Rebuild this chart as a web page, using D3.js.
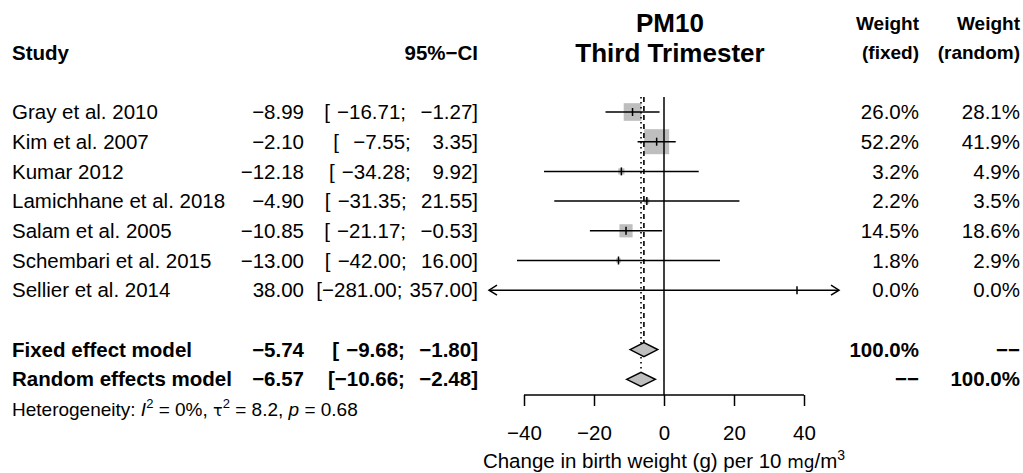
<!DOCTYPE html>
<html>
<head>
<meta charset="utf-8">
<script src="https://cdn.jsdelivr.net/npm/d3@7"></script>
<style>
    html, body { margin: 0; padding: 0; background: #fff; }
    svg text { font-family: "Liberation Sans", Arial, sans-serif; fill: #000; white-space: pre; }
    svg text.ci { word-spacing: 1.5px; }
</style>
</head>
<body>
<div class="chart"></div>
<script>
// study level data
const studies = ["Gray et al. 2010", "Kim et al. 2007", "Kumar 2012", "Lamichhane et al. 2018",
    "Salam et al. 2005", "Schembari et al. 2015", "Sellier et al. 2014"];
const estimates = [-8.99, -2.10, -12.18, -4.90, -10.85, -13.00, 38.00];
const lowerCI = [-16.71, -7.55, -34.28, -31.35, -21.17, -42.00, -281.00];
const upperCI = [-1.27, 3.35, 9.92, 21.55, -0.53, 16.00, 357.00];
const weightFixed = [26.0, 52.2, 3.2, 2.2, 14.5, 1.8, 0.0];
const weightRandom = [28.1, 41.9, 4.9, 3.5, 18.6, 2.9, 0.0];

// pooled models
const modelNames = ["Fixed effect model", "Random effects model"];
const modelEst = [-5.74, -6.57];
const modelLower = [-9.68, -10.66];
const modelUpper = [-1.80, -2.48];
const modelWFixed = ["100.0%", "--"];
const modelWRandom = ["--", "100.0%"];

const xTicks = [-40, -20, 0, 20, 40];
const xDomain = [-50, 50];

const config = {
    width: 1023,
    height: 473,
    rowTop: 112,
    rowStep: 29.7,
    fontSize: 20.5,
    colStudy: 12,
    colEst: 304,
    colCI: 478,
    colWF: 919,
    colWR: 1020,
    axisY: 395
};

const minus = s => s.replace(/-/g, "\u2212");
const fmt = v => minus(v.toFixed(2));
const pad = (s, n) => " ".repeat(Math.max(0, n - s.length)) + s;
const ciText = (lo, hi, wl, wu) => "[" + pad(fmt(lo), wl) + "; " + pad(fmt(hi), wu) + "]";

const rowY = i => config.rowTop + config.rowStep * i;

const svg = d3.select(".chart").append("svg")
    .attr("width", config.width)
    .attr("height", config.height);

const x = d3.scaleLinear().domain(xDomain).range([489, 839]);

// ---- header ----
const header = svg.append("g").attr("font-weight", "bold").attr("font-size", config.fontSize);
header.append("text").attr("x", config.colStudy).attr("y", rowY(-2)).attr("dy", "0.35em").text("Study");
header.append("text").attr("x", config.colCI).attr("y", rowY(-2)).attr("dy", "0.35em")
    .attr("text-anchor", "end").text(minus("95%-CI"));
header.append("text").attr("x", 670).attr("y", rowY(-3)).attr("dy", "0.35em")
    .attr("text-anchor", "middle").attr("font-size", 26).text("PM10");
header.append("text").attr("x", 670).attr("y", rowY(-2)).attr("dy", "0.35em")
    .attr("text-anchor", "middle").attr("font-size", 26).text("Third Trimester");
[["Weight", "(fixed)", config.colWF], ["Weight", "(random)", config.colWR]].forEach(([a, b, cx]) => {
    header.append("text").attr("x", cx).attr("y", rowY(-3)).attr("dy", "0.35em")
        .attr("text-anchor", "end").attr("font-size", 19).text(a);
    header.append("text").attr("x", cx).attr("y", rowY(-2)).attr("dy", "0.35em")
        .attr("text-anchor", "end").attr("font-size", 19).text(b);
});

// ---- study rows text ----
const rows = svg.append("g").attr("font-size", config.fontSize)
    .selectAll("g.row")
    .data(studies.map((s, i) => ({
        name: s, est: estimates[i], lo: lowerCI[i], hi: upperCI[i],
        wf: weightFixed[i], wr: weightRandom[i], i: i
    })))
    .join("g")
    .attr("class", "row")
    .attr("transform", d => `translate(0,${rowY(d.i)})`);

rows.append("text").attr("x", config.colStudy).attr("dy", "0.35em").text(d => d.name);
rows.append("text").attr("x", config.colEst).attr("dy", "0.35em").attr("text-anchor", "end").text(d => fmt(d.est));
rows.append("text").attr("class", "ci").attr("x", config.colCI).attr("dy", "0.35em").attr("text-anchor", "end")
    .text(d => ciText(d.lo, d.hi, 7, 6));
rows.append("text").attr("x", config.colWF).attr("dy", "0.35em").attr("text-anchor", "end").text(d => d.wf.toFixed(1) + "%");
rows.append("text").attr("x", config.colWR).attr("dy", "0.35em").attr("text-anchor", "end").text(d => d.wr.toFixed(1) + "%");

// ---- pooled rows text ----
const models = svg.append("g").attr("font-size", config.fontSize).attr("font-weight", "bold")
    .selectAll("g.model")
    .data(modelNames.map((m, i) => ({
        name: m, est: modelEst[i], lo: modelLower[i], hi: modelUpper[i],
        wf: modelWFixed[i], wr: modelWRandom[i], i: i
    })))
    .join("g")
    .attr("class", "model")
    .attr("transform", d => `translate(0,${rowY(8 + d.i)})`);

models.append("text").attr("x", config.colStudy).attr("dy", "0.35em").text(d => d.name);
models.append("text").attr("x", config.colEst).attr("dy", "0.35em").attr("text-anchor", "end").text(d => fmt(d.est));
models.append("text").attr("class", "ci").attr("x", config.colCI).attr("dy", "0.35em").attr("text-anchor", "end")
    .text(d => ciText(d.lo, d.hi, 6, 6));
models.append("text").attr("x", config.colWF).attr("dy", "0.35em").attr("text-anchor", "end").text(d => minus(d.wf));
models.append("text").attr("x", config.colWR).attr("dy", "0.35em").attr("text-anchor", "end").text(d => minus(d.wr));

// heterogeneity line
const het = svg.append("text").attr("x", config.colStudy).attr("y", rowY(10)).attr("dy", "0.35em")
    .attr("font-size", 19);
het.append("tspan").text("Heterogeneity: ");
het.append("tspan").attr("font-style", "italic").text("I");
het.append("tspan").attr("font-size", 13).attr("dy", "-0.6em").text("2");
het.append("tspan").attr("dy", "0.42em").text(" = 0%, ");
het.append("tspan").attr("font-family", "DejaVu Sans").attr("font-size", 16).text("\u03c4");
het.append("tspan").attr("font-size", 13).attr("dy", "-0.6em").text("2");
het.append("tspan").attr("dy", "0.42em").text(" = 8.2, ");
het.append("tspan").attr("font-style", "italic").text("p");
het.append("tspan").text(" = 0.68");

// ---- plot ----
const plot = svg.append("g");
const topY = rowY(0) - 15;

// squares
const maxW = d3.max(weightFixed);
const side = w => 25 * Math.sqrt(w / maxW);
plot.selectAll("rect.sq")
    .data(studies.map((s, i) => i).filter(i => weightFixed[i] > 0))
    .join("rect")
    .attr("class", "sq")
    .attr("x", i => x(estimates[i]) - side(weightFixed[i]) / 2)
    .attr("y", i => rowY(i) - side(weightFixed[i]) / 2)
    .attr("width", i => side(weightFixed[i]))
    .attr("height", i => side(weightFixed[i]))
    .attr("fill", "#bebebe");

// null line
plot.append("line")
    .attr("x1", x(0)).attr("x2", x(0))
    .attr("y1", topY).attr("y2", config.axisY)
    .attr("stroke", "#000").attr("stroke-width", 1.5);

// pooled reference lines
const dHalf = 7;
plot.append("line")
    .attr("x1", x(modelEst[0])).attr("x2", x(modelEst[0]))
    .attr("y1", topY).attr("y2", rowY(8) - dHalf)
    .attr("stroke", "#000").attr("stroke-width", 1.6).attr("stroke-dasharray", "5,4");
plot.append("line")
    .attr("x1", x(modelEst[1])).attr("x2", x(modelEst[1]))
    .attr("y1", topY).attr("y2", rowY(9) - dHalf)
    .attr("stroke", "#000").attr("stroke-width", 1.6).attr("stroke-dasharray", "1.5,3.5");

// CI lines with arrows when clipped
studies.forEach((s, i) => {
    const y = rowY(i);
    const lo = Math.max(lowerCI[i], xDomain[0]);
    const hi = Math.min(upperCI[i], xDomain[1]);
    plot.append("line")
        .attr("x1", x(lo)).attr("x2", x(hi))
        .attr("y1", y).attr("y2", y)
        .attr("stroke", "#000").attr("stroke-width", 1.5);
    if (lowerCI[i] < xDomain[0]) {
        plot.append("path")
            .attr("d", `M${x(lo) + 8},${y - 5}L${x(lo)},${y}L${x(lo) + 8},${y + 5}`)
            .attr("fill", "none").attr("stroke", "#000").attr("stroke-width", 1.5);
    }
    if (upperCI[i] > xDomain[1]) {
        plot.append("path")
            .attr("d", `M${x(hi) - 8},${y - 5}L${x(hi)},${y}L${x(hi) - 8},${y + 5}`)
            .attr("fill", "none").attr("stroke", "#000").attr("stroke-width", 1.5);
    }
    plot.append("line")
        .attr("x1", x(estimates[i])).attr("x2", x(estimates[i]))
        .attr("y1", y - 4).attr("y2", y + 4)
        .attr("stroke", "#000").attr("stroke-width", 1.5);
});

// diamonds
modelEst.forEach((m, i) => {
    const y = rowY(8 + i);
    plot.append("path")
        .attr("d", `M${x(modelLower[i])},${y}L${x(m)},${y - dHalf}L${x(modelUpper[i])},${y}L${x(m)},${y + dHalf}Z`)
        .attr("fill", "#bebebe").attr("stroke", "#000").attr("stroke-width", 1.5);
});

// x axis
const xAxis = d3.axisBottom(x)
    .tickValues(xTicks)
    .tickSize(11)
    .tickPadding(19)
    .tickFormat(d => minus(String(d)));

const axisG = svg.append("g")
    .attr("transform", `translate(0,${config.axisY})`)
    .call(xAxis);
axisG.select(".domain").remove();
axisG.append("line")
    .attr("x1", x(xTicks[0])).attr("x2", x(xTicks[xTicks.length - 1]))
    .attr("stroke", "#000").attr("stroke-width", 1.5);
axisG.selectAll(".tick line").attr("stroke", "#000").attr("stroke-width", 1.5);
axisG.selectAll(".tick text")
    .attr("font-size", config.fontSize)
    .attr("font-family", "Liberation Sans, Arial, sans-serif")
    .attr("fill", "#000");

const xTitle = svg.append("text")
    .attr("x", x(0)).attr("y", 461).attr("dy", "0.35em")
    .attr("text-anchor", "middle").attr("font-size", config.fontSize);
xTitle.append("tspan").text("Change in birth weight (g) per 10 ");
xTitle.append("tspan").attr("font-family", "DejaVu Sans").attr("font-size", 17).text("mg");
xTitle.append("tspan").text("/m");
xTitle.append("tspan").attr("font-size", 14).attr("dy", "-0.6em").text("3");
</script>
</body>
</html>
